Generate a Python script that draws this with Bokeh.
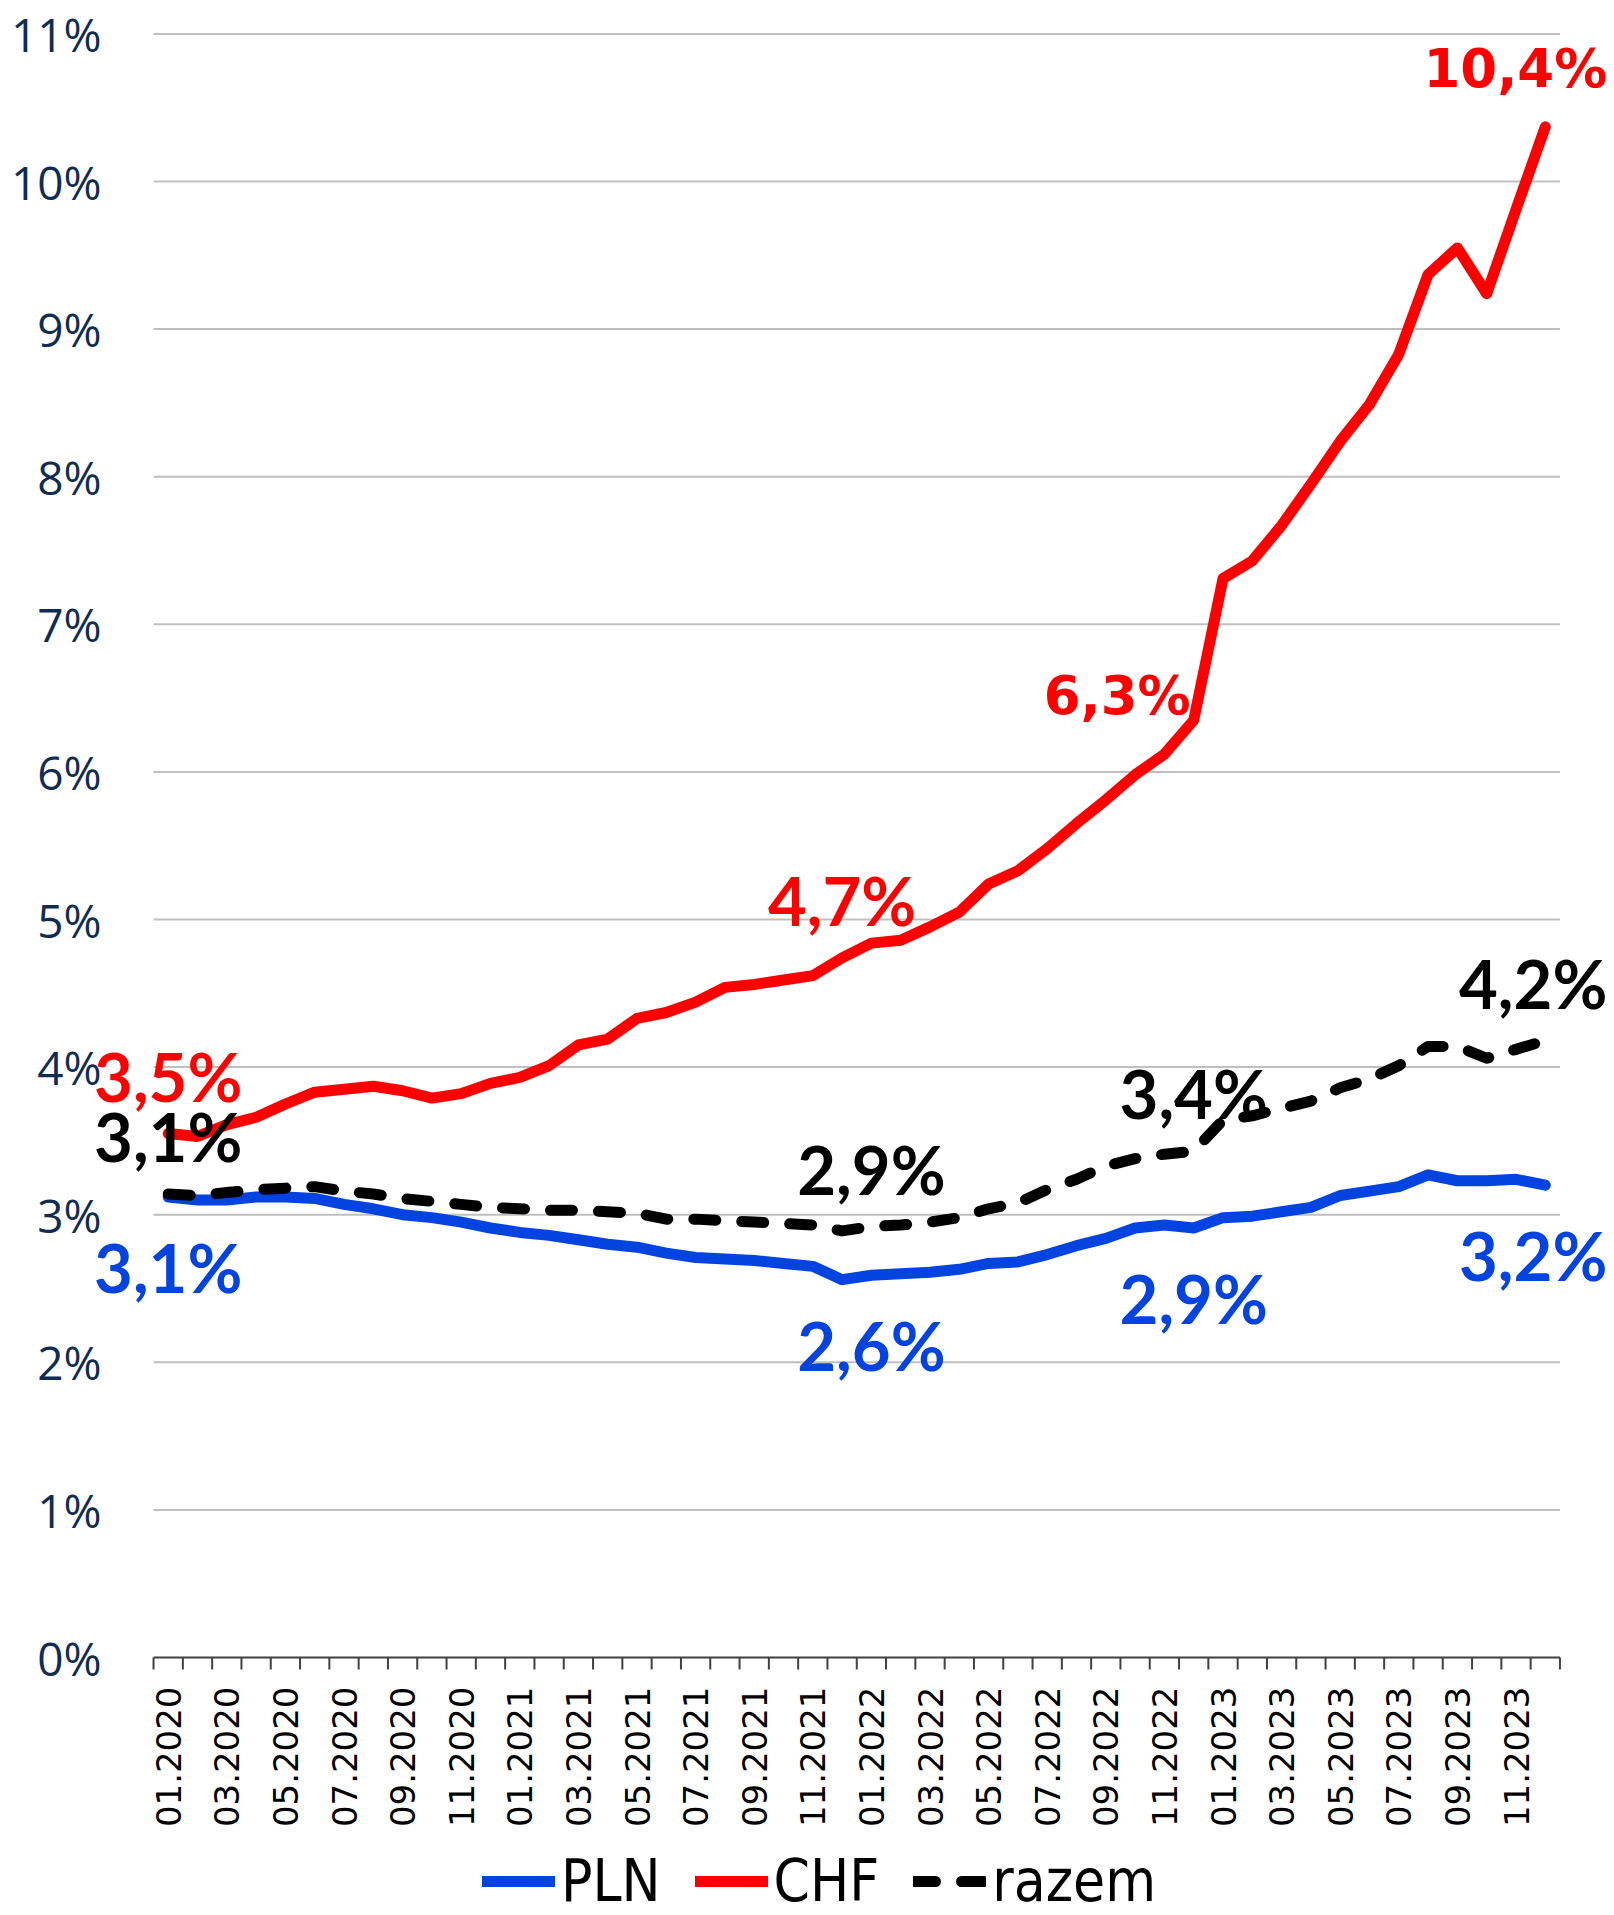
import math
from bokeh.plotting import figure
from bokeh.models import Label, Legend, LegendItem, Range1d, ColumnDataSource
from bokeh.core.properties import value
from bokeh.embed import file_html
from bokeh.resources import INLINE

# ---------------- data ----------------
months = [f"{m:02d}.{y}" for y in (2020, 2021, 2022, 2023) for m in range(1, 13)]

pln = [3.12, 3.10, 3.10, 3.12, 3.12, 3.11, 3.07, 3.04, 3.00, 2.98, 2.95, 2.91,
       2.88, 2.86, 2.83, 2.80, 2.78, 2.74, 2.71, 2.70, 2.69, 2.67, 2.65, 2.56,
       2.59, 2.60, 2.61, 2.63, 2.67, 2.68, 2.73, 2.79, 2.84, 2.91, 2.93, 2.91,
       2.98, 2.99, 3.02, 3.05, 3.13, 3.16, 3.19, 3.27, 3.23, 3.23, 3.24, 3.20]

chf = [3.55, 3.53, 3.61, 3.66, 3.75, 3.83, 3.85, 3.87, 3.84, 3.79, 3.82, 3.89,
       3.93, 4.01, 4.15, 4.19, 4.33, 4.37, 4.44, 4.54, 4.56, 4.59, 4.62, 4.74,
       4.84, 4.86, 4.95, 5.05, 5.24, 5.33, 5.48, 5.65, 5.81, 5.98, 6.12, 6.35,
       7.31, 7.43, 7.67, 7.95, 8.24, 8.49, 8.83, 9.37, 9.55, 9.24, 9.81, 10.37]

razem = [3.14, 3.13, 3.15, 3.17, 3.18, 3.19, 3.16, 3.14, 3.11, 3.09, 3.07, 3.05,
         3.04, 3.03, 3.03, 3.02, 3.01, 2.97, 2.97, 2.96, 2.95, 2.94, 2.93, 2.89,
         2.92, 2.93, 2.95, 2.98, 3.04, 3.08, 3.17, 3.24, 3.33, 3.38, 3.41, 3.43,
         3.64, 3.67, 3.72, 3.77, 3.86, 3.92, 4.01, 4.14, 4.14, 4.06, 4.12, 4.18]

y_ticks = list(range(0, 12))
y_tick_labels = [f"{v}%" for v in y_ticks]

series_names = ["PLN", "CHF", "razem"]

# data labels: (series, index, text)
data_labels = [
    ("CHF", 0, "3,5%"), ("razem", 0, "3,1%"), ("PLN", 0, "3,1%"),
    ("CHF", 23, "4,7%"), ("razem", 24, "2,9%"), ("PLN", 24, "2,6%"),
    ("CHF", 35, "6,3%"), ("razem", 35, "3,4%"), ("PLN", 35, "2,9%"),
    ("CHF", 47, "10,4%"), ("razem", 47, "4,2%"), ("PLN", 47, "3,2%"),
]

# ---------------- layout / styles ----------------
values_by_name = {"PLN": pln, "CHF": chf, "razem": razem}
colors = {"PLN": "#0343DF", "CHF": "#FF0000", "razem": "#000000"}
dashes = {"PLN": "solid", "CHF": "solid", "razem": "22 26"}

W, H = 1614, 1915
CAT_PX = 29.3          # pixels per category
PCT_PX = 147.6         # pixels per 1 percentage point
X0_PX = 167.7          # screen x of first category centre
Y0_PX = 1657           # screen y (from top) of the 0% line

x_start = -X0_PX / CAT_PX
x_end = x_start + W / CAT_PX
y_end = Y0_PX / PCT_PX
y_start = -(H - Y0_PX) / PCT_PX

n = len(months)
x = list(range(n))

p = figure(width=W, height=H, output_backend="svg", toolbar_location=None,
           x_range=Range1d(x_start, x_end), y_range=Range1d(y_start, y_end),
           x_axis_type=None, y_axis_type=None,
           min_border_left=0, min_border_right=0, min_border_top=0, min_border_bottom=0)
p.outline_line_color = None
p.background_fill_color = "white"
p.border_fill_color = "white"
p.grid.visible = False

lo, hi = -0.5, n - 0.5

# horizontal gridlines
grid_src = ColumnDataSource(dict(y=y_ticks[1:]))
p.segment(x0=lo, x1=hi, y0="y", y1="y", source=grid_src,
          line_color="#BFBFBF", line_width=2)

# y tick labels
ylab_src = ColumnDataSource(dict(y=y_ticks, t=y_tick_labels))
p.text(x=lo, y="y", text="t", source=ylab_src, x_offset=-52,
       text_align="right", text_baseline="middle",
       text_font=value("Open Sans"), text_font_size="46px", text_color="#0F2D52")

# x axis line and ticks (ticks at category boundaries)
tick_len = 12 / PCT_PX
p.segment(x0=lo, x1=hi, y0=0, y1=0, line_color="#404040", line_width=2)
tick_src = ColumnDataSource(dict(x=[i - 0.5 for i in range(n + 1)]))
p.segment(x0="x", x1="x", y0=0, y1=-tick_len, source=tick_src,
          line_color="#404040", line_width=2)

# x tick labels (every second month)
xl_idx = [i for i in x if i % 2 == 0]
xlab_src = ColumnDataSource(dict(x=xl_idx, y=[0] * len(xl_idx), t=[months[i] for i in xl_idx]))
p.text(x="x", y="y", text="t", source=xlab_src, angle=math.pi / 2, y_offset=29,
       text_align="right", text_baseline="middle",
       text_font=value("DejaVu Sans"), text_font_size="34px", text_color="#000000")

# series
renderers = {}
for name in series_names:
    src = ColumnDataSource(dict(x=x, y=values_by_name[name]))
    renderers[name] = p.line("x", "y", source=src, line_color=colors[name],
                             line_width=11, line_dash=dashes[name],
                             line_join="round", line_cap="round")

# data labels
for name, idx, txt in data_labels:
    yv = values_by_name[name][idx]
    wide = txt in ("10,4%", "6,3%")
    font = "DejaVu Sans" if wide else "Lato"
    size = "53px" if wide else "67px"
    align = "center"
    xo = 0
    yo = -70 if name == "PLN" else 58
    if txt == "6,3%":
        align, xo, yo = "right", -3, 25
    if idx == n - 1:
        align, xo = "right", 62
    p.add_layout(Label(x=idx, y=yv, text=txt, text_font=font, text_font_style="bold",
                       text_font_size=size, text_color=colors[name],
                       text_align=align, text_baseline="middle",
                       x_offset=xo, y_offset=yo))

legend = Legend(items=[LegendItem(label=nm, renderers=[renderers[nm]]) for nm in series_names],
                orientation="horizontal", location=(482, 0),
                label_text_font="DejaVu Sans Condensed", label_text_font_size="58px",
                label_text_color="#000000", label_height=50,
                glyph_width=73, glyph_height=50, label_standoff=6, spacing=34,
                padding=0, margin=0, border_line_color=None,
                background_fill_alpha=0)
p.add_layout(legend)

open("out.html", "w").write(file_html(p, INLINE))
